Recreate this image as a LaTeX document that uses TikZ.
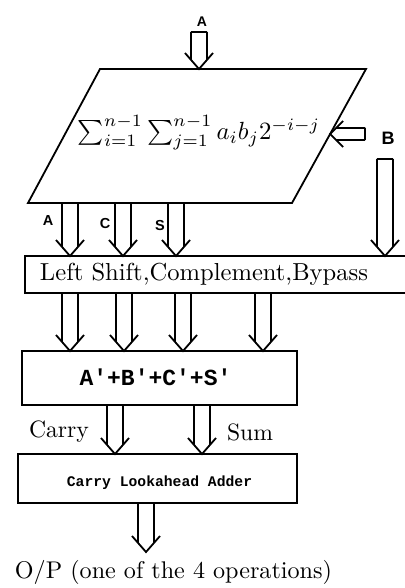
\documentclass[tikz,border=0pt]{standalone}
\usepackage{fontspec}
\usepackage{graphicx}
\newfontfamily\lsans{Liberation Sans}
\newfontfamily\lmono{Liberation Mono}
\usetikzlibrary{calc}
\tikzset{
  ln/.style={line width=1.8pt, line join=miter, line cap=butt},
  boxnode/.style={inner sep=0pt, outer sep=0pt},
  txt/.style={inner sep=0pt, outer sep=0pt},
}
% hollow downward arrow: start, end, closed top (1/0)
\newcommand{\hdn}[3]{%
  \draw[ln] let \p1=(#1), \p2=(#2) in
    (\x1-14pt,\y2+16pt) -- (\x1,\y2) -- (\x1+14pt,\y2+16pt)
    (\x1-8pt,\y1) -- (\x1-8pt,\y2+9.14pt)
    (\x1+8pt,\y1) -- (\x1+8pt,\y2+9.14pt);
  \ifnum#3=1 \draw[ln] let \p1=(#1) in (\x1-8pt,\y1) -- (\x1+8pt,\y1);\fi}
\begin{document}
\begin{tikzpicture}[x=1pt,y=-1pt]
\useasboundingbox (0,0) rectangle (404,588);
% parallelogram
\draw[ln] (100,69) coordinate (p1) -- (366,69) coordinate (p2) -- (292,203) coordinate (p3) -- (28,203) coordinate (p4) -- cycle;
\node[txt] (formula) at (199,133) {\resizebox{242pt}{!}{$\sum_{i=1}^{n-1}\sum_{j=1}^{n-1}a_i b_j 2^{-i-j}$}};
% top input A
\node[txt, anchor=base, font=\lsans\bfseries\fontsize{14}{14}\selectfont] (lA) at (202,27) {A};
\coordinate (tA) at (199,32);
\hdn{tA}{tA |- p1}{1}
% B input (left arrow)
\node[txt, anchor=base, font=\lsans\bfseries\fontsize{18}{18}\selectfont] (lB) at (388,145) {B};
\coordinate (bs) at (365,134);
\coordinate (btip) at ($(p2)!0.485!(p3)$);
\draw[ln] let \p1=(bs), \p2=(btip) in
  (\x2+13pt,\y1+13pt) -- (\x2,\y1) -- (\x2+13pt,\y1-13pt)
  (\x1,\y1+6pt) -- (\x2+6pt,\y1+6pt)
  (\x1,\y1-6pt) -- (\x2+6pt,\y1-6pt)
  (\x1,\y1+6pt) -- (\x1,\y1-6pt);
% Left shift box (right side open at the image edge)
\node[boxnode, minimum width=380pt, minimum height=37pt] (ls) at (215,274.5) {};
\draw[ln] (ls.north east) -- (ls.north west) -- (ls.south west) -- (ls.south east);
\node[txt] (lst) at (204,274) {\resizebox{328pt}{!}{Left Shift,Complement,Bypass}};
% B down arrow
\coordinate (bd) at (385,159);
\hdn{bd}{bd |- ls.north}{1}
% A C S arrows
\coordinate (aa) at (70,203);
\coordinate (ac) at (123,203);
\coordinate (as) at (176,203);
\hdn{aa}{aa |- ls.north}{0}
\hdn{ac}{ac |- ls.north}{0}
\hdn{as}{as |- ls.north}{0}
\tikzset{lbl/.style={txt, anchor=base, font=\lsans\bfseries\fontsize{14.5}{14.5}\selectfont}}
\node[lbl] (la) at (48,225) {A};
\node[lbl] (lc) at (105,228) {C};
\node[lbl] (lsum) at (160,230) {S};
% adder box
\node[boxnode, draw, line width=1.8pt, minimum width=275pt, minimum height=54pt] (add) at (159.5,378) {};
\node[txt, anchor=base, font=\lmono\bfseries\fontsize{23}{23}\selectfont] (addt) at (155.5,385) {A'+B'+C'+S'};
\coordinate (o1) at (70,293);
\coordinate (o2) at (124,293);
\coordinate (o3) at (183,293);
\coordinate (o4) at (263,293);
\hdn{o1}{o1 |- add.north}{0}
\hdn{o2}{o2 |- add.north}{0}
\hdn{o3}{o3 |- add.north}{0}
\hdn{o4}{o4 |- add.north}{0}
% CLA box
\node[boxnode, draw, line width=1.8pt, minimum width=279pt, minimum height=49pt] (cla) at (157.5,478.5) {};
\node[txt, anchor=base, font=\lmono\bfseries\fontsize{14.7}{14.7}\selectfont] (clat) at (159.5,486) {Carry Lookahead Adder};
\coordinate (cc) at (115,405);
\coordinate (cs) at (202,405);
\hdn{cc}{cc |- cla.north}{0}
\hdn{cs}{cs |- cla.north}{0}
\node[txt, anchor=base] (lcarry) at (59,437) {\resizebox{60pt}{!}{Carry}};
\node[txt, anchor=base] (lsumt) at (250,440) {\resizebox{46pt}{!}{Sum}};
% output
\coordinate (out) at (146,503);
\coordinate (outtip) at (146,552);
\hdn{out}{outtip}{0}
\node[txt, anchor=base] (op) at (173.5,578) {\resizebox{317pt}{!}{O/P (one of the 4 operations)}};
\end{tikzpicture}
\end{document}
